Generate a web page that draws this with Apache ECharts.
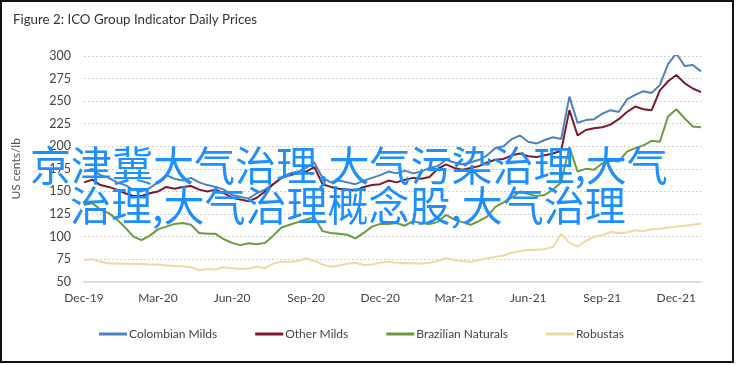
<!DOCTYPE html>
<html>
<head>
<meta charset="utf-8">
<script src="https://cdn.jsdelivr.net/npm/echarts@6/dist/echarts.min.js"></script>
<style>
html,body{margin:0;padding:0;background:#fff;}
#chart{width:736px;height:365px;}
</style>
</head>
<body>
<div id="chart"></div>
<script>
// ---- data (sampled every ~10 days, Dec 2019 .. Dec 2021) ----
const tickLabels = ['Dec-19','Mar-20','Jun-20','Sep-20','Dec-20','Mar-21','Jun-21','Sep-21','Dec-21'];
const seriesNames = ['Colombian Milds','Other Milds','Brazilian Naturals','Robustas'];

const colombianMilds = [172,175,168,165,160,157,152,150,154,160,168,164,162,165,160,157,155,152,146,144,
  142,148,152,158,165,170,172,176,182,165,160,162,160,158,162,165,168,172,170,173,
  170,172,176,178,185,182,180,182,185,190,198,200,208,212,205,203,207,210,208,255,
  226,229,230,236,240,238,252,257,261,259,268,291,303,289,290,283];
const otherMilds = [160,163,157,155,152,148,145,145,148,150,155,153,155,156,152,150,152,148,143,141,
  139,143,150,158,165,168,170,172,177,158,155,153,152,151,155,157,158,162,160,163,
  165,164,166,175,180,176,174,176,178,182,185,186,190,192,189,188,190,192,195,240,
  212,218,220,221,224,230,238,244,241,240,262,272,279,270,264,260];
const brazilianNaturals = [135,137,130,126,119,110,100,96,101,108,111,114,115,113,104,103,103,97,93,90.5,
  92.5,91.5,93,101,110,113,116,119,121,106,104,103,102,98,104,111,114,114,115,112,
  117,115,114,116,124,119,116,113,117,122,133,138,143,150,147,145,146,152,160,199,
  172,175,174,181,184,183,194,198,201,206,205,233,241,231,222,221];
const robustas = [74,75,72,70.5,70,70,69.5,69.5,69,69,68,67.5,67,66,63,64,63.5,66,65,64,
  64.5,66.5,65,70,72,72,73,76,73,69,66.5,68,70,71,68.5,69,71,72,71,70.5,
  70.5,70,71,73,76,74,73,72,74,76,77.5,79,82,84,85,85.5,86,88.5,103,93,
  89,95,100,101.5,105,104,104.5,107,106,108,108.5,110,111,112,113,114.5];

const overlayLines = ['京津冀大气治理,大气污染治理,大气', '治理,大气治理概念股,大气治理'];

// sample position in months since 1 Dec 2019 (three samples per month)
const samplesPerMonth = 3;
function toPairs(arr){ return arr.map((v,i)=>[i/samplesPerMonth, v]); }

const colors = ['#4F81BD','#7B1A2C','#6A9B3C','#F0D8A2'];
const FONT = 'Lato, "Open Sans", sans-serif';

const chart = echarts.init(document.getElementById('chart'), null, {renderer:'canvas'});
const dataSets = [colombianMilds, otherMilds, brazilianNaturals, robustas];

chart.setOption({
  animation:false,
  backgroundColor:'#fff',
  textStyle:{fontFamily:FONT},
  title:{
    text:'Figure 2: ICO Group Indicator Daily Prices',
    left:8, top:8,
    textStyle:{fontFamily:FONT, fontSize:13.3, fontWeight:'normal', color:'#333'}
  },
  grid:{left:84, right:35, top:56, bottom:83.3},
  legend:{
    left:94, top:323,
    icon:'rect', itemWidth:28, itemHeight:3, itemGap:38,
    textStyle:{fontFamily:FONT, fontSize:12, color:'#444', padding:[0,0,0,-3]},
    data:seriesNames
  },
  xAxis:{
    type:'value', min:0, max:25, interval:3,
    axisLine:{show:true, lineStyle:{color:'#d4d4d4', width:1.5}},
    axisTick:{show:false},
    splitLine:{show:false},
    axisLabel:{
      showMaxLabel:false, margin:10,
      fontFamily:FONT, fontSize:12, color:'#444',
      formatter:(v)=> (v%3===0 && tickLabels[v/3]) ? tickLabels[v/3] : ''
    }
  },
  yAxis:{
    type:'value', min:50, max:300, interval:25,
    name:'US cents/lb', nameLocation:'middle', nameGap:62, nameRotate:90,
    nameTextStyle:{fontFamily:FONT, fontSize:12, color:'#555'},
    axisLine:{show:false}, axisTick:{show:false},
    axisLabel:{margin:13, fontFamily:FONT, fontSize:12.5, color:'#444'},
    splitLine:{show:true, lineStyle:{color:'#c4c4c4', type:[1.5,2.5], width:1.2}}
  },
  series: dataSets.map((d,k)=>({
    name:seriesNames[k], type:'line', data:toPairs(d),
    showSymbol:false, symbol:'none',
    lineStyle:{width:2, color:colors[k]}, itemStyle:{color:colors[k]},
    z:2
  })),
  graphic:[
    {type:'rect', shape:{x:1, y:1, width:732, height:361}, style:{fill:'none', stroke:'#111', lineWidth:2}, z:200},
    {type:'text', left:30, top:145, z:100,
      style:{text:overlayLines[0], fill:'#1E8FFF', font:'41px "Noto Sans CJK SC"'}},
    {type:'text', left:70, top:185, z:100,
      style:{text:overlayLines[1], fill:'#1E8FFF', font:'41px "Noto Sans CJK SC"'}}
  ]
});
</script>
</body>
</html>
